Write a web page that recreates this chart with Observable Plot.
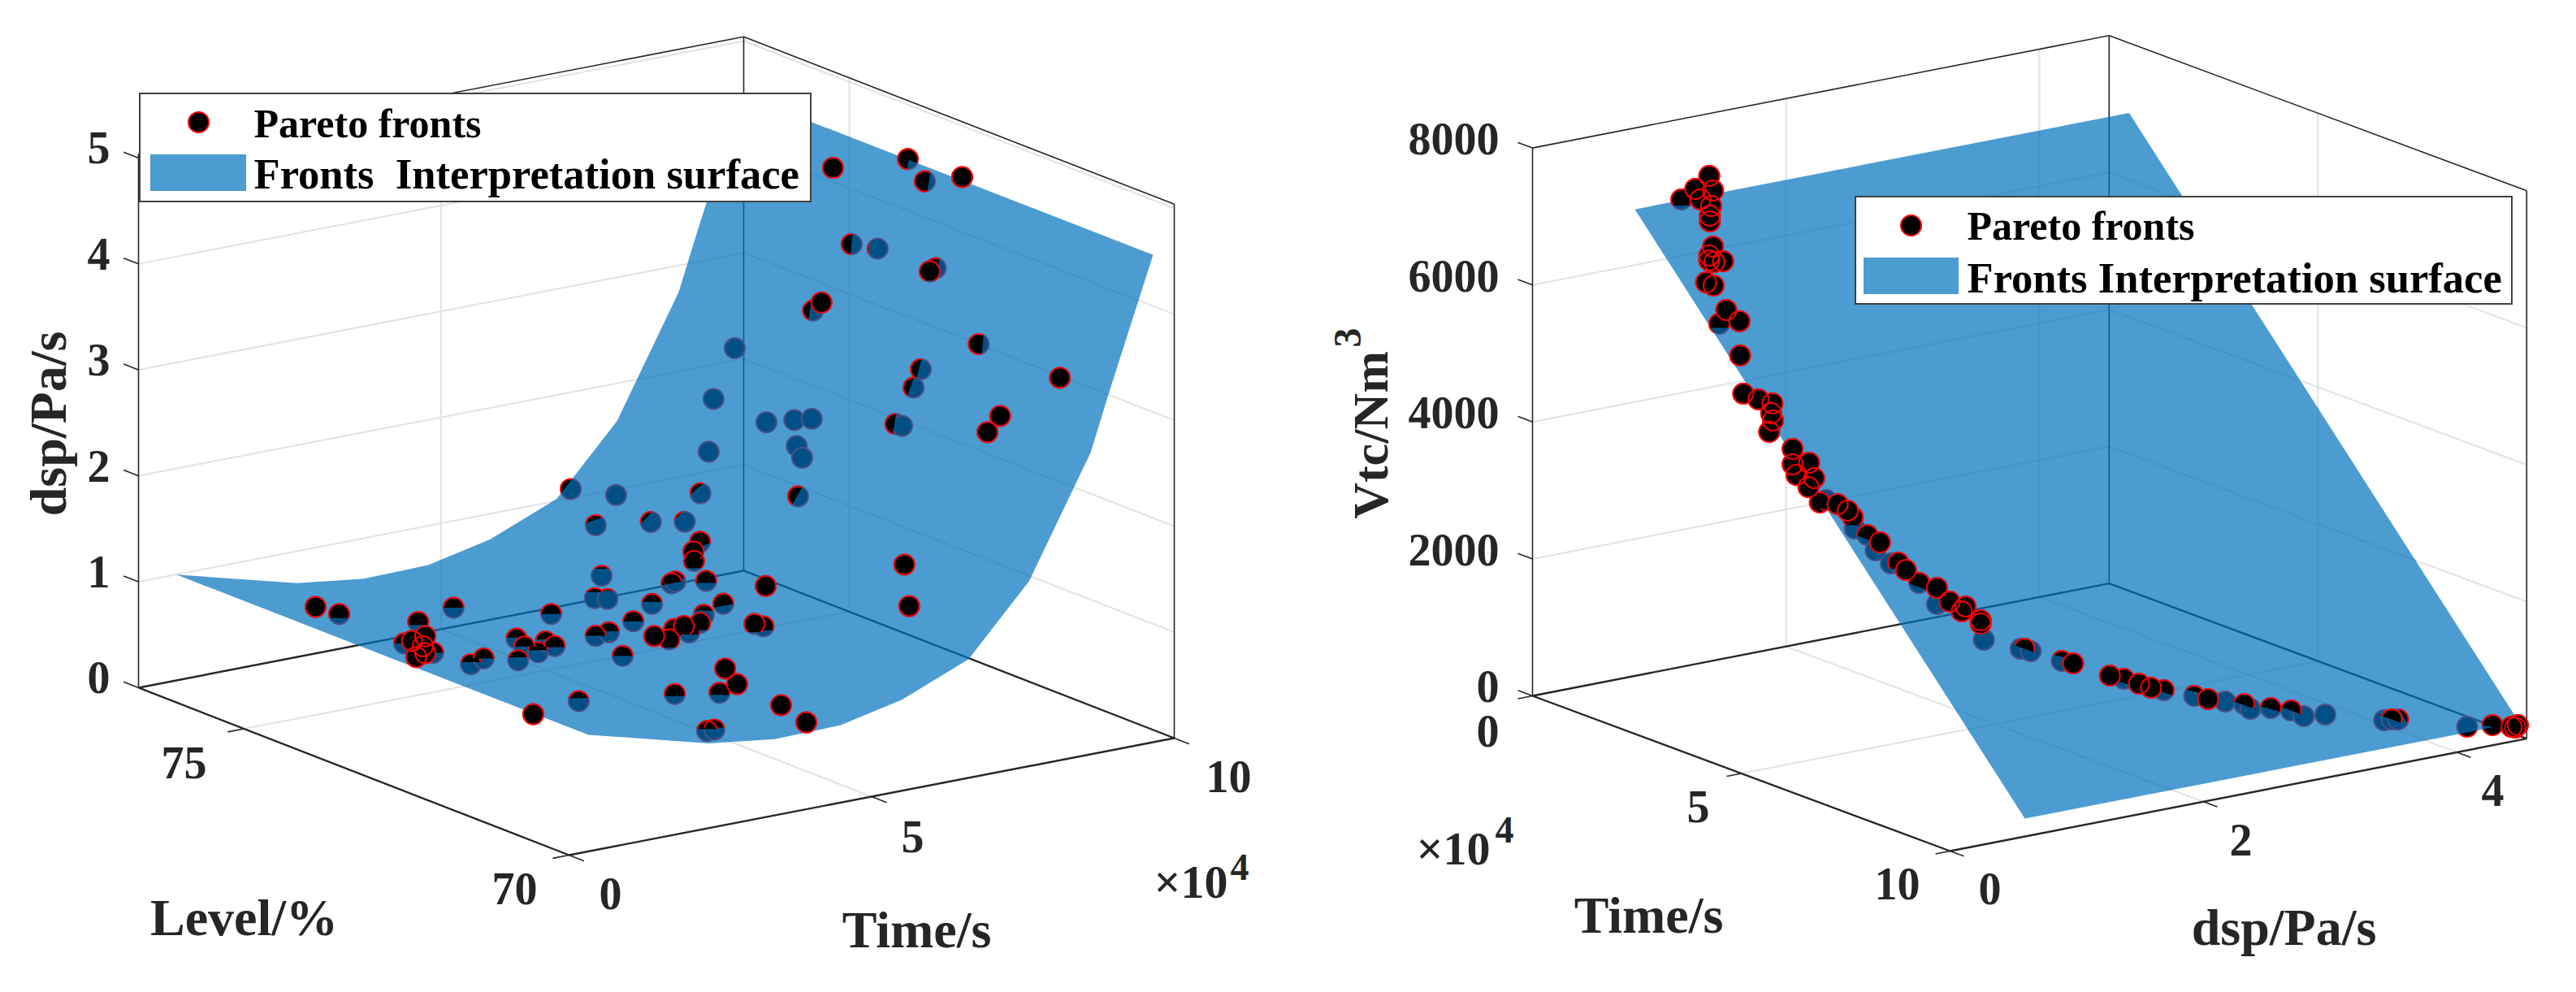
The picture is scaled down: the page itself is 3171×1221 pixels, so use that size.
<!DOCTYPE html>
<html>
<head>
<meta charset="utf-8">
<style>html,body{margin:0;padding:0;background:#fff;overflow:hidden}svg{display:block}</style>
<script src="https://cdn.jsdelivr.net/npm/d3@7"></script>
<script src="https://cdn.jsdelivr.net/npm/@observablehq/plot@0.6"></script>
</head>
<body>
<div id="chart"></div>
<script>
// ---- Left chart: Level / Time (x10^4 s) / dsp ----
const levelA = [75,75,75,74.5,74,74,74,74,74,74,74,73,73,73.5,73,73.5,73,71.5,74,73.5,73.5,71.5,72.5,73,73,73.5,73.5,74,74,74.5,74,74,74,73,73,74,74,74,72.5,72.5,72.5,72.5,72.5,72.5,72.5,72,72,71.5,71,71,71,70.5,70,70,70,76,76,75,75,75,75,75,76,76,76,75,75,75,75,74,75,73,73,72.5,73,73,73,73,75,75,71.5,72,72,70,70.5,70.5,72,72,70,70];
const timeA = [1.18,1.57,3.46,2.34,1.92,1.57,2.05,1.88,1.92,1.70,1.77,1.60,1.81,2.89,2.38,3.02,2.71,1.02,4.00,3.37,3.52,1.77,3.57,3.66,3.88,4.82,5.13,4.72,4.93,5.37,5.99,6.05,6.56,5.77,6.47,6.46,6.35,6.36,4.09,4.34,4.58,4.85,4.91,4.67,4.42,5.21,5.36,4.19,3.85,3.56,2.82,4.04,3.92,2.28,2.40,9.18,8.83,8.63,9.09,9.38,9.13,9.22,8.75,6.47,7.22,7.54,5.81,6.72,7.28,8.08,9.73,8.82,9.10,9.18,7.89,8.32,9.28,9.18,9.54,9.40,8.38,7.96,7.84,8.11,7.66,7.45,7.54,7.65,5.54,5.62];
const dspA = [1.02,0.91,0.76,0.87,0.90,0.87,0.73,0.81,0.74,0.88,0.72,0.91,0.94,0.89,0.86,0.80,0.90,0.86,0.88,0.81,0.75,0.90,0.89,0.95,0.96,0.84,0.97,0.95,0.92,0.97,0.95,0.96,0.91,1.02,1.11,1.29,1.21,1.12,1.02,0.96,1.06,1.06,1.13,0.99,1.05,1.13,1.09,0.94,0.95,0.90,0.97,0.85,0.82,0.92,0.92,2.34,1.90,1.94,1.91,1.89,1.66,1.54,1.41,1.31,1.17,1.39,1.28,1.21,1.15,1.54,4.22,4.88,4.64,4.79,4.18,4.09,3.80,3.78,2.97,2.91,3.54,3.23,3.07,3.61,3.18,3.05,2.76,2.73,2.13,1.73];
// share of each marker that stands in front of the surface, and where the cut lies
const exposedA = [1,.7,.5,.65,1,.5,.5,1,1,1,1,.4,.5,.45,.35,.5,.4,1,.5,.4,.55,.35,.5,.5,.45,.5,.4,.2,.1,.15,.5,.4,.6,.6,1,.7,.85,.85,1,.9,.9,.85,.3,.6,.8,.9,.7,1,1,.6,.6,1,1,.4,.4,0,0,0,0,0,0,0,0,0,0,.22,.25,.2,.08,.45,1,.55,.7,1,.5,.05,.6,.95,1,.35,.7,.4,.35,1,1,1,.45,.1,1,1];
const tiltA = [0,0,0,0,0,0,0,0,0,0,0,0,0,0,0,0,0,0,0,0,0,0,0,0,0,0,0,0,0,0,-10,-10,0,-10,0,-15,0,0,0,0,0,0,0,0,0,0,0,0,0,0,0,0,0,0,0,0,0,0,0,0,0,0,0,0,0,-40,-20,-45,-45,-60,0,-80,-80,0,-85,-90,-80,0,0,-80,-85,-75,-70,0,0,0,-80,-85,0,0];
const surfTimeA = [0.32,2.31,3.4,4.48,5.5,6.6,7.6,8.62,8.91,9.65];
const surfDspA = [1.10,0.80,0.72,0.73,0.86,1.12,1.745,2.85,3.36,4.6];
const surfLevelA = [70,76.34];
const dspTicksA = [0,1,2,3,4,5];
const timeTicksA = [0,5,10];
const levelTicksA = [70,75];

// ---- Right chart: Time (x10^4 s) / dsp / Vtc ----
const dspB = [1.23,1.12,1.26,1.16,1.01,1.08,1.07,1.07,0.93,0.90,0.90,0.94,1.01,0.71,0.77,0.87,0.65,0.81,0.65,0.51,0.63,0.74,0.73,0.58,0.55,0.57,0.57,0.70,0.60,0.74,0.53,0.62,0.67,0.76,0.84,0.88,0.73,0.83,0.93,0.73,0.85,0.91,0.97,0.91,1.05,1.05,1.15,1.08,1.11,1.23,1.23,1.09,1.41,1.38,1.46,1.54,1.63,1.92,2.03,2.15,2.08,2.18,2.42,2.53,2.50,2.65,2.70,2.86,3.02,3.12,3.29,3.59,3.65,3.70,4.08,4.28,4.43,4.48,4.46];
const timeB = [.5,.5,.5,.5,.5,1,1,1,1.5,1.5,1.5,1.5,1.5,2,2,2,2.5,2.5,3,3.5,3.5,3.5,3.5,4,4,4.5,4.5,4.5,4.5,4.5,5,5,5,5,5,5,5.5,5.5,5.5,6,6,6,6,6.5,6.5,6.5,6.5,7,7,7,7,7.5,7.5,7.5,7.5,8,8,8,8,8,8.5,8.5,8.5,8.5,9,9,9,9,9,9,9,9.5,9.5,9.5,10,10,10,10,10];
const vtcB = [7262,7112,7038,6943,6997,6990,6852,6769,6564,6445,6373,6335,6322,6235,6166,5774,5765,5744,5415,5022,4895,4797,4658,4719,4563,4421,4196,4172,4031,3932,3990,3733,3750,3658,3535,3425,3426,3295,3152,3219,2987,2976,2848,2794,2673,2435,2434,2431,2491,2245,2198,2126,1879,1890,1826,1767,1699,1416,1330,1215,1295,1223,1053,967,1055,964,875,830,737,618,580,503,492,474,344,295,217,223,195];
const exposedB = [1,1,1,1,.8,1,1,1,1,1,1,1,1,1,1,1,.7,1,1,1,1,1,1,1,1,1,1,1,1,1,1,.8,0,1,1,.9,0,.7,1,0,0,.8,1,.7,1,0,1,1,1,1,1,0,.5,0,0,.3,1,1,.7,1,1,.6,.3,1,0,.55,0,.55,.5,0,0,0,.5,.2,0,.6,1,1,1];
const tiltB = [0,0,0,0,0,0,0,0,0,0,0,0,0,0,0,0,0,0,0,0,0,0,0,0,0,0,0,0,0,0,0,0,0,0,0,0,0,20,0,0,0,0,0,20,0,0,0,0,0,0,0,0,20,0,0,15,0,0,15,0,0,20,15,0,0,20,0,15,20,0,0,0,20,60,0,10,0,0,0];
const surfDspB = [0.6,4.5];
const surfTimeB = [0.63,9.97];
const surfVtcB = [7030,250];
const vtcTicksB = [0,2000,4000,6000,8000];
const timeTicksB = [0,5,10];
const dspTicksB = [0,2,4];

// ---- Text ----
const legendNames = ["Pareto fronts"];
const surfaceNames = ["Fronts  Interpretation surface","Fronts Interpretation surface"];

// ---- View set-up: the view angle of each 3D axes box, as picture-plane vectors ----
const levelMax = 76.625, dspTopA = 5.04, dspMaxB = 4.55, vtcTop = 8000;
const pA = (L,t,z)=>[700+74.5*t-80*(L-70), 1052-14.4*t-31.1*(L-70)-130.4*z];
const pB = (t,d,v)=>[1886+51.4*t+156*d, 856+19.1*t-30.4*d-0.0843*v];

const seg = (p,q)=>({x1:p[0],y1:p[1],x2:q[0],y2:q[1]});
const GRID="#e2e2e2", AXIS="#262626", SURF="#0072BD", FONT="Liberation Serif";

// grids
const gridA=[], axisThin=[], axisThick=[], tickSegs=[];
for(const z of dspTicksA.slice(1)){
  gridA.push(seg(pA(levelMax,0,z),pA(levelMax,10,z)));
  gridA.push(seg(pA(levelMax,10,z),pA(70,10,z)));
  tickSegs.push(seg(pA(levelMax,0,z),pA(levelMax+.23,0,z)));
}
tickSegs.push(seg(pA(levelMax,0,0),pA(levelMax+.23,0,0)));
gridA.push(seg(pA(levelMax,5,0),pA(levelMax,5,dspTopA)), seg(pA(70,5,0),pA(levelMax,5,0)));
gridA.push(seg(pA(75,0,0),pA(75,10,0)), seg(pA(75,10,0),pA(75,10,dspTopA)));
for(const v of vtcTicksB.slice(1,-1)){
  gridA.push(seg(pB(0,0,v),pB(0,dspMaxB,v)));
  gridA.push(seg(pB(0,dspMaxB,v),pB(10,dspMaxB,v)));
}
for(const d of [2,4]){
  gridA.push(seg(pB(0,d,0),pB(0,d,vtcTop)), seg(pB(0,d,0),pB(10,d,0)));
}
gridA.push(seg(pB(5,0,0),pB(5,dspMaxB,0)), seg(pB(5,dspMaxB,0),pB(5,dspMaxB,vtcTop)));
for(const v of vtcTicksB) tickSegs.push(seg(pB(0,0,v),pB(-.35,0,v)));
for(const t of timeTicksA) tickSegs.push(seg(pA(70,t,0),pA(69.77,t,0)));
for(const L of levelTicksA) tickSegs.push(seg(pA(L,0,0),pA(L,-.27,0)));
for(const t of timeTicksB) tickSegs.push(seg(pB(t,0,0),pB(t,-.115,0)));
for(const d of dspTicksB) tickSegs.push(seg(pB(10,d,0),pB(10.33,d,0)));

// box edges
axisThick.push(seg(pA(levelMax,0,0),pA(70,0,0)), seg(pA(70,0,0),pA(70,10,0)), seg(pA(levelMax,0,0),pA(levelMax,10,0)), seg(pA(levelMax,10,0),pA(70,10,0)));
axisThin.push(seg(pA(levelMax,0,0),pA(levelMax,0,dspTopA)), seg(pA(levelMax,10,0),pA(levelMax,10,dspTopA)), seg(pA(70,10,0),pA(70,10,dspTopA)), seg(pA(levelMax,0,dspTopA),pA(levelMax,10,dspTopA)), seg(pA(levelMax,10,dspTopA),pA(70,10,dspTopA)));
axisThick.push(seg(pB(0,0,0),pB(10,0,0)), seg(pB(10,0,0),pB(10,dspMaxB,0)), seg(pB(0,0,0),pB(0,dspMaxB,0)), seg(pB(0,dspMaxB,0),pB(10,dspMaxB,0)));
axisThin.push(seg(pB(0,0,0),pB(0,0,vtcTop)), seg(pB(0,dspMaxB,0),pB(0,dspMaxB,vtcTop)), seg(pB(10,dspMaxB,0),pB(10,dspMaxB,vtcTop)), seg(pB(0,0,vtcTop),pB(0,dspMaxB,vtcTop)), seg(pB(0,dspMaxB,vtcTop),pB(10,dspMaxB,vtcTop)));

// surfaces
const ringA = [
  ...surfTimeA.map((t,i)=>pA(surfLevelA[0],t,surfDspA[i])),
  ...surfTimeA.map((t,i)=>pA(surfLevelA[1],t,surfDspA[i])).reverse()
].map(([x,y])=>({x,y}));
const ringB = [
  pB(surfTimeB[0],surfDspB[0],surfVtcB[0]), pB(surfTimeB[0],surfDspB[1],surfVtcB[0]),
  pB(surfTimeB[1],surfDspB[1],surfVtcB[1]), pB(surfTimeB[1],surfDspB[0],surfVtcB[1])
].map(([x,y])=>({x,y}));

// points
const ptsA = levelA.map((L,i)=>{const [x,y]=pA(L,timeA[i],dspA[i]);return {x,y,e:exposedA[i],tilt:tiltA[i]};});
const ptsB = dspB.map((d,i)=>{const [x,y]=pB(timeB[i],d,vtcB[i]);return {x,y,e:exposedB[i],tilt:tiltB[i]};});

// a marker cut by the surface: the part in front of it
const capFill = e=>({draw(c,s){const r=Math.sqrt(s/Math.PI);
  if(e>=1){c.moveTo(r,0);c.arc(0,0,r,0,2*Math.PI);c.closePath();return;}
  const yc=r*(2*e-1),xc=Math.sqrt(r*r-yc*yc),a=Math.atan2(yc,xc);
  c.moveTo(xc,yc);c.arc(0,0,r,a,Math.PI-a,true);c.closePath();}});
const capArc = e=>({draw(c,s){const r=Math.sqrt(s/Math.PI);
  if(e>=1){c.moveTo(r,0);c.arc(0,0,r,0,2*Math.PI);c.closePath();return;}
  const yc=r*(2*e-1),xc=Math.sqrt(r*r-yc*yc),a=Math.atan2(yc,xc);
  c.moveTo(xc,yc);c.arc(0,0,r,a,Math.PI-a,true);}});
const R=12.5;
const capMarks = pts=>d3.groups(pts.filter(d=>d.e>0),d=>d.e).sort((a,b)=>a[0]-b[0]).flatMap(([e,g])=>[
  Plot.dot(g,{x:"x",y:"y",r:R,fill:"black",stroke:"none",symbol:capFill(e),rotate:"tilt"}),
  Plot.dot(g,{x:"x",y:"y",r:R,fill:"none",stroke:"red",strokeWidth:2,symbol:capArc(e),rotate:"tilt"})
]);
const bodyMark = pts=>Plot.dot(pts,{x:"x",y:"y",r:R,fill:"black",stroke:"red",strokeWidth:2});

// labels
const sideLabels=[
  ...dspTicksA.map(z=>({t:String(z),x:pA(levelMax,0,z)[0]-35,y:pA(levelMax,0,z)[1]-11})),
  ...vtcTicksB.map(v=>({t:String(v),x:pB(0,0,v)[0]-41,y:pB(0,0,v)[1]-10}))
];
const tickLabels=[
  {t:String(levelTicksA[1]),x:226,y:940},{t:String(levelTicksA[0]),x:633,y:1095},
  {t:String(timeTicksA[0]),x:751,y:1101},{t:String(timeTicksA[1]),x:1123,y:1031},{t:String(timeTicksA[2]),x:1512,y:957},
  {t:String(timeTicksB[0]),x:1831,y:901},{t:String(timeTicksB[1]),x:2090,y:994},{t:String(timeTicksB[2]),x:2335,y:1089},
  {t:String(dspTicksB[0]),x:2449,y:1095},{t:String(dspTicksB[1]),x:2758,y:1035},{t:String(dspTicksB[2]),x:3068,y:974}
];
const axisLabels=[
  {t:"Level/%",x:300,y:1150},{t:"Time/s",x:1128,y:1165},
  {t:"Time/s",x:2029,y:1147},{t:"dsp/Pa/s",x:2811,y:1162}
];
const legends=[
  {x1:172,x2:998,y1:115,y2:248,mx:244,my:150,sx1:185,sx2:303,sy1:190,sy2:235,tx:312,b1:168,b2:231,name:surfaceNames[0]},
  {x1:2284,x2:3092,y1:242,y2:374,mx:2352,my:277,sx1:2294,sx2:2411,sy1:317,sy2:362,tx:2421,b1:294,b2:359,name:surfaceNames[1]}
];
const T={fontFamily:FONT,fontWeight:"bold",x:"x",y:"y",text:"t"};

const chart = Plot.plot({
  width:3171,height:1221,margin:0,
  x:{domain:[0,3171],range:[0,3171],axis:null},
  y:{domain:[0,1221],range:[0,1221],axis:null},
  style:{background:"#fff",whiteSpace:"pre"},
  marks:[
    Plot.link(gridA,{x1:"x1",y1:"y1",x2:"x2",y2:"y2",stroke:GRID,strokeWidth:2}),
    Plot.link(axisThick,{x1:"x1",y1:"y1",x2:"x2",y2:"y2",stroke:AXIS,strokeWidth:2.4}),
    Plot.link(axisThin,{x1:"x1",y1:"y1",x2:"x2",y2:"y2",stroke:AXIS,strokeWidth:1.6}),
    Plot.link(tickSegs,{x1:"x1",y1:"y1",x2:"x2",y2:"y2",stroke:AXIS,strokeWidth:1.6}),
    bodyMark(ptsA), bodyMark(ptsB),
    Plot.line(ringA,{x:"x",y:"y",fill:SURF,fillOpacity:.7,stroke:"none"}),
    Plot.line(ringB,{x:"x",y:"y",fill:SURF,fillOpacity:.7,stroke:"none"}),
    ...capMarks(ptsA), ...capMarks(ptsB),
    Plot.text(sideLabels,{...T,textAnchor:"end",fontSize:56,fill:AXIS}),
    Plot.text(tickLabels,{...T,textAnchor:"middle",fontSize:56,fill:AXIS}),
    Plot.text(axisLabels,{...T,fontSize:64,fill:AXIS,lineAnchor:"bottom"}),
    Plot.text([{t:"dsp/Pa/s",x:80,y:521}],{...T,fontSize:64,fill:AXIS,rotate:-90,lineAnchor:"bottom"}),
    Plot.text([{t:"Vtc/Nm",x:1707,y:535}],{...T,fontSize:62,fill:AXIS,rotate:-90,lineAnchor:"bottom"}),
    Plot.text([{t:"3",x:1674,y:415}],{...T,fontSize:48,fill:AXIS,rotate:-90,lineAnchor:"bottom"}),
    Plot.text([{t:"×10",x:1420,y:1104},{t:"×10",x:1743,y:1063}],{...T,fontSize:58,fill:AXIS,textAnchor:"start",lineAnchor:"bottom"}),
    Plot.text([{t:"4",x:1514,y:1082},{t:"4",x:1840,y:1036}],{...T,fontSize:46,fill:AXIS,textAnchor:"start",lineAnchor:"bottom"}),
    Plot.rect(legends,{x1:"x1",x2:"x2",y1:"y1",y2:"y2",fill:"white",stroke:"#404040",strokeWidth:2}),
    Plot.rect(legends,{x1:"sx1",x2:"sx2",y1:"sy1",y2:"sy2",fill:SURF,fillOpacity:.7}),
    Plot.dot(legends,{x:"mx",y:"my",r:R,fill:"black",stroke:"red",strokeWidth:2}),
    Plot.text(legends,{x:"tx",y:"b1",text:()=>legendNames[0],fontFamily:FONT,fontWeight:"bold",fontSize:50,fill:"black",textAnchor:"start",lineAnchor:"bottom"}),
    Plot.text(legends,{x:"tx",y:"b2",text:"name",fontFamily:FONT,fontWeight:"bold",fontSize:52.6,fill:"black",textAnchor:"start",lineAnchor:"bottom"})
  ]
});
document.getElementById("chart").append(chart);
</script>
</body>
</html>
